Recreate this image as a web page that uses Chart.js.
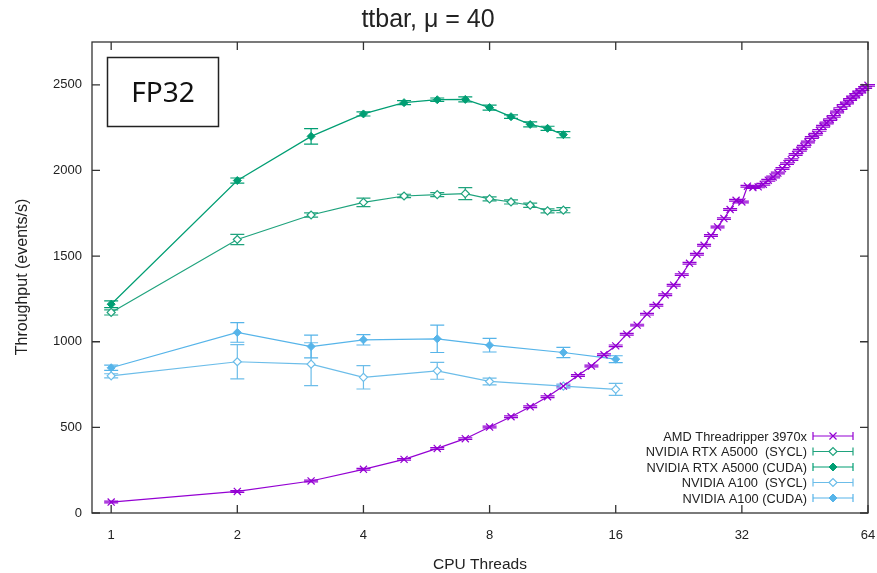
<!DOCTYPE html>
<html>
<head>
<meta charset="utf-8">
<script src="https://cdn.jsdelivr.net/npm/chart.js@4"></script>
<style>
  html, body { margin: 0; padding: 0; background: #fff; }
</style>
</head>
<body>
<canvas id="chart" width="877" height="573"></canvas>
<script>
// Data
const cpuThreads = [1, 2, 3, 4, 5, 6, 7, 8, 9, 10, 11, 12, 13, 14, 15, 16,
  17, 18, 19, 20, 21, 22, 23, 24, 25, 26, 27, 28, 29, 30, 31, 32,
  33, 34, 35, 36, 37, 38, 39, 40, 41, 42, 43, 44, 45, 46, 47, 48,
  49, 50, 51, 52, 53, 54, 55, 56, 57, 58, 59, 60, 61, 62, 63, 64];
const amdThroughput = [64, 126, 187, 255, 313, 377, 434, 502, 562, 620, 679, 741, 803, 858, 924, 976,
  1044, 1097, 1161, 1213, 1274, 1330, 1392, 1458, 1511, 1563, 1620, 1670, 1719, 1772, 1826, 1816,
  1908, 1900, 1904, 1919, 1943, 1962, 1985, 2011, 2040, 2063, 2093, 2118, 2141, 2166, 2192, 2211,
  2234, 2258, 2277, 2297, 2316, 2341, 2361, 2380, 2394, 2414, 2429, 2444, 2458, 2472, 2484, 2497];
const amdErr = 5;

const a5000Threads = [1, 2, 3, 4, 5, 6, 7, 8, 9, 10, 11, 12];
const a5000Sycl = [1171, 1597, 1740, 1814, 1851, 1859, 1865, 1834, 1816, 1797, 1764, 1768];
const a5000SyclErr = [15, 30, 12, 25, 10, 12, 35, 12, 12, 12, 12, 15];
const a5000Cuda = [1219, 1941, 2199, 2330, 2396, 2413, 2415, 2367, 2314, 2269, 2246, 2209];
const a5000CudaErr = [20, 15, 45, 12, 12, 10, 15, 15, 10, 15, 12, 18];

const a100Threads = [1, 2, 3, 4, 6, 8, 12, 16];
const a100Sycl = [801, 883, 869, 792, 830, 768, 741, 722];
const a100SyclErr = [12, 100, 125, 68, 49, 20, 12, 35];
const a100Cuda = [848, 1054, 972, 1011, 1017, 980, 937, 898];
const a100CudaErr = [15, 57, 66, 30, 80, 40, 30, 20];

const xTicks = [1, 2, 4, 8, 16, 32, 64];
const yTicks = [0, 500, 1000, 1500, 2000, 2500];

const toPoints = (xs, ys) => xs.map((x, i) => ({ x: x, y: ys[i] }));

const PURPLE = '#9400d3';
const GREEN = '#009e73';
const GREEN_L = '#1fa37d';
const BLUE = '#56b4e9';
const BLUE_L = '#6cbde9';
const TEXT = '#222';

const datasets = [
  {
    label: 'AMD Threadripper 3970x',
    data: toPoints(cpuThreads, amdThroughput),
    errors: cpuThreads.map(() => amdErr),
    borderColor: PURPLE, backgroundColor: PURPLE,
    pointStyle: 'crossRot', pointRadius: 5, pointBorderWidth: 1.2
  },
  {
    label: 'NVIDIA RTX A5000  (SYCL)',
    data: toPoints(a5000Threads, a5000Sycl),
    errors: a5000SyclErr,
    borderColor: GREEN_L, backgroundColor: '#fff',
    pointStyle: 'rectRot', pointRadius: 4, pointBorderWidth: 1.2
  },
  {
    label: 'NVIDIA RTX A5000 (CUDA)',
    data: toPoints(a5000Threads, a5000Cuda),
    errors: a5000CudaErr,
    borderColor: GREEN, backgroundColor: GREEN,
    pointStyle: 'rectRot', pointRadius: 4, pointBorderWidth: 1
  },
  {
    label: 'NVIDIA A100  (SYCL)',
    data: toPoints(a100Threads, a100Sycl),
    errors: a100SyclErr,
    borderColor: BLUE_L, backgroundColor: '#fff',
    pointStyle: 'rectRot', pointRadius: 4, pointBorderWidth: 1.2
  },
  {
    label: 'NVIDIA A100 (CUDA)',
    data: toPoints(a100Threads, a100Cuda),
    errors: a100CudaErr,
    borderColor: BLUE, backgroundColor: BLUE,
    pointStyle: 'rectRot', pointRadius: 4, pointBorderWidth: 1
  }
];
datasets.forEach(d => {
  d.borderWidth = 1.2;
  d.fill = false;
  d.tension = 0;
  d.pointBorderColor = d.borderColor;
  d.pointBackgroundColor = d.backgroundColor;
});

// error bars drawn from the y scale
const errorBars = {
  id: 'errorBars',
  beforeDatasetsDraw(chart) {
    const ctx = chart.ctx;
    const y = chart.scales.y;
    chart.data.datasets.forEach((ds, i) => {
      const meta = chart.getDatasetMeta(i);
      ctx.save();
      ctx.strokeStyle = ds.borderColor;
      ctx.lineWidth = 1.2;
      meta.data.forEach((pt, j) => {
        const v = ds.data[j].y, e = ds.errors[j];
        const top = y.getPixelForValue(v + e), bot = y.getPixelForValue(v - e);
        ctx.beginPath();
        ctx.moveTo(pt.x, top); ctx.lineTo(pt.x, bot);
        ctx.moveTo(pt.x - 7, top); ctx.lineTo(pt.x + 7, top);
        ctx.moveTo(pt.x - 7, bot); ctx.lineTo(pt.x + 7, bot);
        ctx.stroke();
      });
      ctx.restore();
    });
  }
};

// frame, inward ticks, titles, label box and legend
const decorations = {
  id: 'decorations',
  afterDraw(chart) {
    const ctx = chart.ctx;
    const a = chart.chartArea;
    const xs = chart.scales.x, ys = chart.scales.y;
    ctx.save();
    ctx.strokeStyle = '#333';
    ctx.lineWidth = 1.3;
    ctx.strokeRect(a.left, a.top, a.right - a.left, a.bottom - a.top);
    ctx.beginPath();
    xTicks.forEach(v => {
      const px = xs.getPixelForValue(v);
      ctx.moveTo(px, a.bottom); ctx.lineTo(px, a.bottom - 8);
      ctx.moveTo(px, a.top); ctx.lineTo(px, a.top + 8);
    });
    yTicks.forEach(v => {
      const py = ys.getPixelForValue(v);
      ctx.moveTo(a.left, py); ctx.lineTo(a.left + 8, py);
      ctx.moveTo(a.right, py); ctx.lineTo(a.right - 8, py);
    });
    ctx.stroke();

    // title
    ctx.fillStyle = TEXT;
    ctx.font = '25px "Liberation Sans", Arial, sans-serif';
    ctx.textAlign = 'center';
    ctx.textBaseline = 'alphabetic';
    ctx.fillText('ttbar, \u03bc = 40', 428, 27);

    // axis titles
    ctx.font = '15.5px "Liberation Sans", Arial, sans-serif';
    ctx.fillText('CPU Threads', 480, 569);
    ctx.font = '16px "Liberation Sans", Arial, sans-serif';
    ctx.save();
    ctx.translate(27, 277);
    ctx.rotate(-Math.PI / 2);
    ctx.fillText('Throughput (events/s)', 0, 0);
    ctx.restore();

    // FP32 box
    ctx.lineWidth = 1.5;
    ctx.strokeStyle = '#222';
    ctx.strokeRect(107.5, 57.5, 111, 69);
    ctx.font = '28px "Noto Sans", sans-serif';
    ctx.fillStyle = '#111';
    ctx.fillText('FP32', 163, 102);

    // legend
    ctx.font = '12.8px "Liberation Sans", Arial, sans-serif';
    ctx.textAlign = 'right';
    ctx.textBaseline = 'middle';
    chart.data.datasets.forEach((ds, i) => {
      const yy = 436 + i * 15.5;
      ctx.fillStyle = TEXT;
      ctx.fillText(ds.label, 807, yy + 1);
      ctx.strokeStyle = ds.borderColor;
      ctx.lineWidth = 1.2;
      ctx.beginPath();
      ctx.moveTo(813, yy); ctx.lineTo(853, yy);
      ctx.moveTo(813, yy - 4); ctx.lineTo(813, yy + 4);
      ctx.moveTo(853, yy - 4); ctx.lineTo(853, yy + 4);
      ctx.stroke();
      ctx.fillStyle = ds.backgroundColor;
      ctx.strokeStyle = ds.borderColor;
      ctx.lineWidth = ds.pointBorderWidth;
      Chart.helpers.drawPoint(ctx, {
        pointStyle: ds.pointStyle, radius: ds.pointRadius, borderWidth: ds.pointBorderWidth
      }, 833, yy);
    });
    ctx.restore();
  }
};

const tickFont = { family: '"Liberation Sans", Arial, sans-serif', size: 13 };

new Chart(document.getElementById('chart').getContext('2d'), {
  type: 'line',
  data: { datasets: datasets },
  options: {
    responsive: false,
    animation: false,
    devicePixelRatio: 1,
    layout: { padding: { top: 42, right: 9, left: 0, bottom: 0 } },
    plugins: { legend: { display: false }, tooltip: { enabled: false } },
    scales: {
      x: {
        type: 'logarithmic',
        min: 0.9,
        max: 64,
        afterBuildTicks: s => { s.ticks = xTicks.map(v => ({ value: v })); },
        afterFit: s => { s.height = 60; s.paddingLeft = 0; s.paddingRight = 0; },
        grid: { display: false, tickLength: 0 },
        border: { display: false },
        ticks: {
          font: tickFont, color: TEXT, padding: 15,
          maxRotation: 0, autoSkip: false,
          callback: v => String(v)
        }
      },
      y: {
        min: 0,
        max: 2750,
        afterBuildTicks: s => { s.ticks = yTicks.map(v => ({ value: v })); },
        afterFit: s => { s.width = 92; s.paddingTop = 0; s.paddingBottom = 0; },
        grid: { display: false, tickLength: 0 },
        border: { display: false },
        ticks: { font: tickFont, color: TEXT, padding: 10, callback: v => String(v) }
      }
    }
  },
  plugins: [errorBars, decorations]
});
</script>
</body>
</html>
